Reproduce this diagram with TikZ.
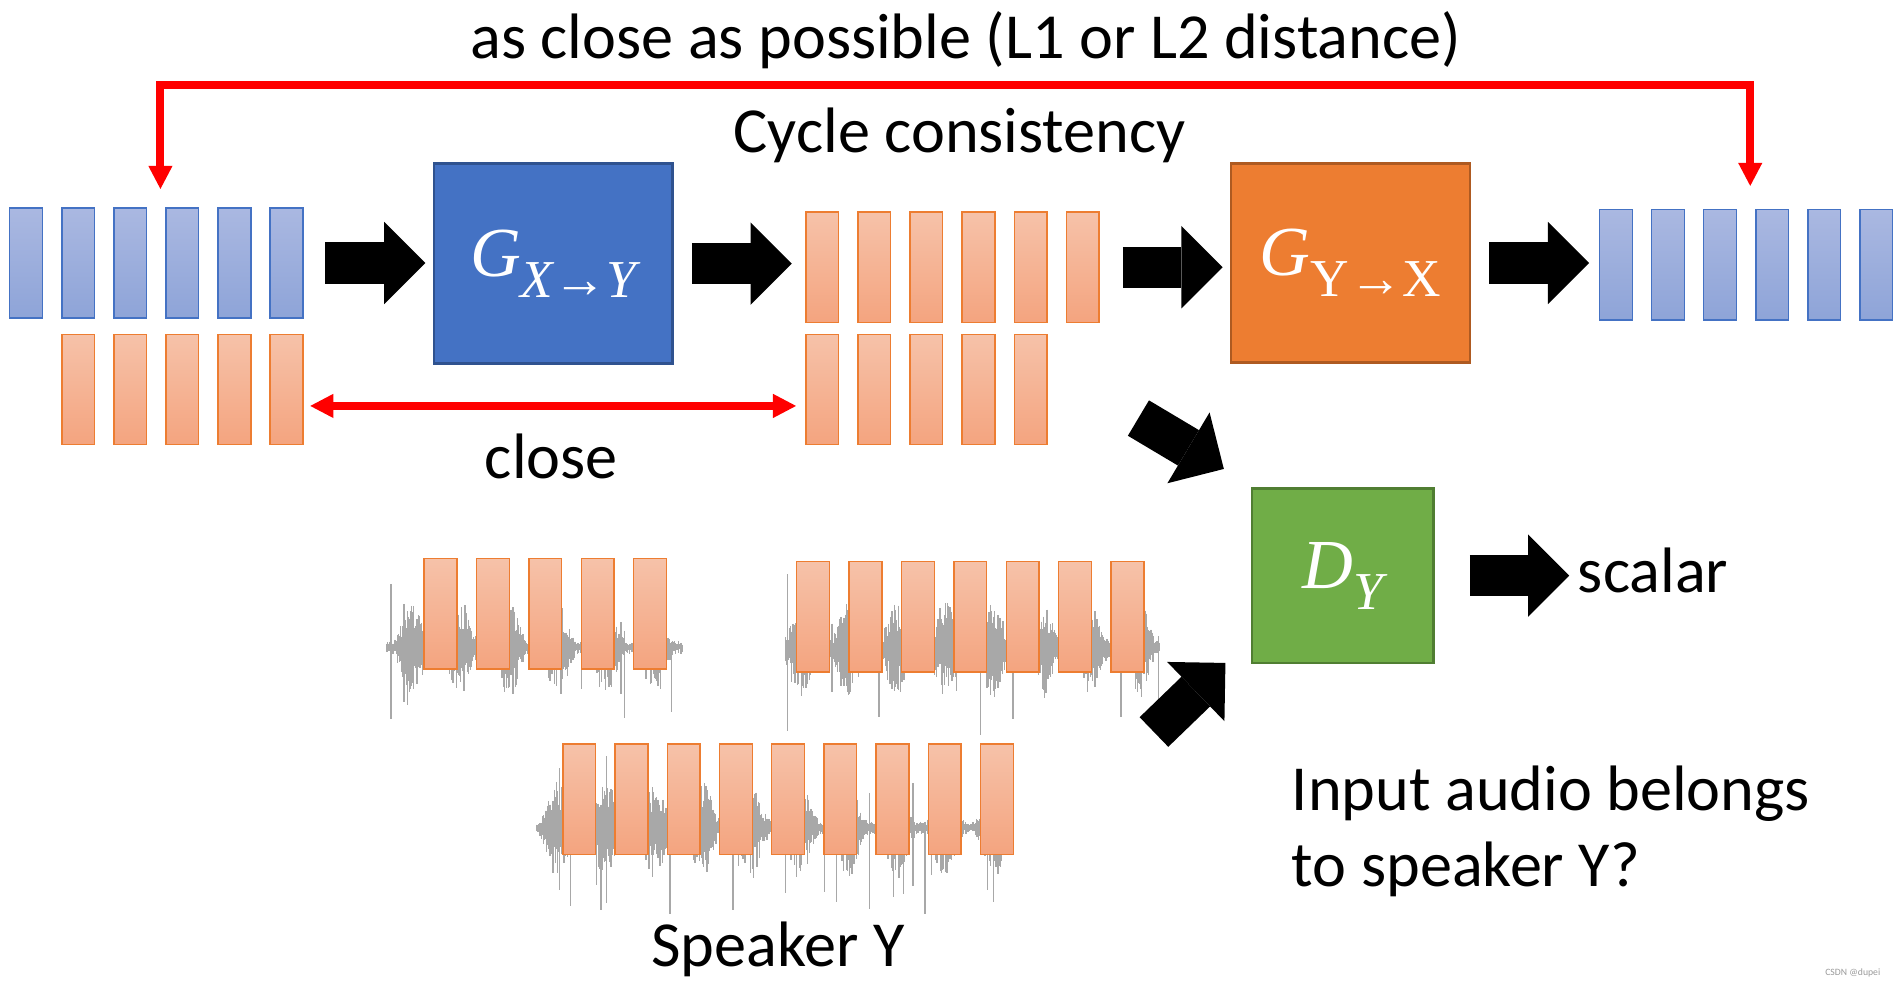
\documentclass[tikz,border=0pt]{standalone}
\usepackage{fontspec}
\setmainfont{Carlito}
\newfontfamily\eqfont{Liberation Serif}
\usetikzlibrary{arrows.meta,calc,positioning}

\definecolor{genblue}{HTML}{4472C4}
\definecolor{genblueline}{HTML}{2F528F}
\definecolor{genorange}{HTML}{ED7D31}
\definecolor{genorangeline}{HTML}{AE5A21}
\definecolor{disgreen}{HTML}{70AD47}
\definecolor{disgreenline}{HTML}{507E32}
\definecolor{bluetop}{HTML}{AAB8E1}
\definecolor{bluebot}{HTML}{8EA4D8}
\definecolor{orangetop}{HTML}{F6C2A9}
\definecolor{orangebot}{HTML}{F4A47F}
\definecolor{wavegray}{HTML}{A8A8A8}

\begin{document}
\begin{tikzpicture}[
        x=1pt, y=-1pt,
        bar/.style={
            rectangle,
            inner sep=0pt,
            minimum width=27pt,
            minimum height=91pt,
            line width=1.2pt
        },
        xbar/.style={
            bar,
            draw=genblue,
            top color=bluetop,
            bottom color=bluebot
        },
        ybar/.style={
            bar,
            draw=genorange,
            top color=orangetop,
            bottom color=orangebot
        },
        netbox/.style={
            rectangle,
            inner sep=0pt,
            line width=2pt,
            text=white,
            font=\eqfont\fontsize{58}{60}\selectfont
        },
        lbl/.style={
            inner sep=0pt,
            font=\fontsize{53}{60}\selectfont
        },
        fat/.style={
            line width=34pt,
            -{Triangle[length=34pt,width=68pt,line width=0pt]}
        },
        redline/.style={
            draw=red,
            line width=6.5pt,
            {Triangle[length=19pt,width=20pt,line width=0pt]}-{Triangle[length=19pt,width=20pt,line width=0pt]}
        },
        wave/.style={
            draw=wavegray,
            line width=1.1pt
        }
    ]

        \useasboundingbox (0,0) rectangle (1568,817);

        \foreach \i in {1,...,6} {
            \node[xbar] (xa\i) at ({21.5+43*(\i-1)},217) {};
            \node[ybar] (ya\i) at ({678.5+43*(\i-1)},220.5) {};
            \node[xbar] (xb\i) at ({1333.5+43*(\i-1)},218.5) {};
        }
        \foreach \i in {1,...,5} {
            \node[ybar] (xr\i) at ({64.5+43*(\i-1)},321.5) {};
            \node[ybar] (yb\i) at ({678.5+43*(\i-1)},321.5) {};
        }

        \node[netbox, fill=genblue, draw=genblueline, minimum width=197pt, minimum height=165pt]
            (gxy) at (456.5,217.5) {\itshape G\raisebox{-0.3em}{\fontsize{44}{46}\selectfont X→Y}};
        \node[netbox, fill=genorange, draw=genorangeline, minimum width=197pt, minimum height=164pt]
            (gyx) at (1114.5,217) {\itshape G\upshape\raisebox{-0.3em}{\fontsize{44}{46}\selectfont Y→X}};
        \node[netbox, fill=disgreen, draw=disgreenline, minimum width=150pt, minimum height=144pt]
            (dy) at (1108,475) {\itshape D\raisebox{-0.3em}{\fontsize{44}{46}\selectfont Y}};

        \node[lbl, anchor=base] (title) at (797,48) {as close as possible (L1 or L2 distance)};
        \node[lbl, anchor=base] (cycle) at (792,126) {Cycle consistency};
        \node[lbl, anchor=base] (close) at (455,395) {close};
        \node[lbl, anchor=base west] (scalar) at (1302,489) {scalar};
        \node[lbl, anchor=base west] (ask1) at (1066,669) {Input audio belongs};
        \node[lbl, anchor=base west] (ask2) at (1066,731.5) {to speaker Y?};
        \node[lbl, anchor=base] (spk) at (642,798) {Speaker Y};
        \node[inner sep=0pt, text=gray!80, font=\fontsize{8}{9}\selectfont] (mark) at (1529,803) {CSDN @dupei};

        \pgfmathsetseed{4242}
        \foreach \xa/\xb/\yc in {319/563/534, 648/957/535, 443/836/683} {
            \pgfmathsetmacro{\xs}{\xa+0.9}
            \foreach \x in {\xa,\xs,...,\xb} {
                \pgfmathsetmacro{\env}{5+34*abs(sin(\x*4.5))^3}
                \pgfmathsetmacro{\up}{\env*(0.35+0.65*rnd)}
                \pgfmathsetmacro{\dn}{\env*(0.35+0.75*rnd)}
                \pgfmathsetmacro{\spk}{rnd<0.03 ? 30+45*rnd : 0}
                \pgfmathsetmacro{\up}{max(\up,\spk*rnd)}
                \pgfmathsetmacro{\dn}{max(\dn,\spk)}
                \draw[wave] (\x,\yc-\up) -- (\x,\yc+\dn);
            }
        }

        \foreach \i in {1,...,5} {
            \node[ybar] (sa\i) at ({363.5+43.25*(\i-1)},506.5) {};
        }
        \foreach \i in {1,...,7} {
            \node[ybar] (sb\i) at ({671+43.25*(\i-1)},509) {};
        }
        \foreach \i in {1,...,9} {
            \node[ybar] (sc\i) at ({478+43.1*(\i-1)},659.5) {};
        }

        \draw[fat, shorten <=18pt, shorten >=6pt] (xa6.east) -- (xa6.east -| gxy.west);
        \draw[fat, shorten <=15pt, shorten >=11pt] (gxy.east) -- (gxy.east -| ya1.west);
        \draw[fat, shorten <=19pt, shorten >=6pt] (ya6.east) -- (ya6.east -| gyx.west);
        \draw[fat, shorten <=15pt, shorten >=8pt] (gyx.east) -- (gyx.east -| xb1.west);
        \draw[fat, shorten <=29pt, shorten >=7pt] (dy.east) -- (dy.east -| scalar.west);

        \coordinate (upin) at (939.5,345);
        \coordinate (lowin) at (952.3,604.1);
        \draw[fat] (upin) -- ([shift={(-22,-15)}]dy.north west);
        \draw[fat] (lowin) -- ([shift={(-20.7,-0.9)}]dy.south west);

        \coordinate (ltip) at ([shift={(-4,-15)}]xa4.north west);
        \coordinate (rtip) at ([shift={(-4,-19)}]xb4.north west);
        \coordinate (topy) at (0,70);
        \draw[redline] (ltip) -- (ltip |- topy) -- (rtip |- topy) -- (rtip);
        \draw[redline] ([shift={(5.5,13.5)}]xr5.east) -- ([shift={(-7.5,13.5)}]yb1.west);

    \end{tikzpicture}
\end{document}
